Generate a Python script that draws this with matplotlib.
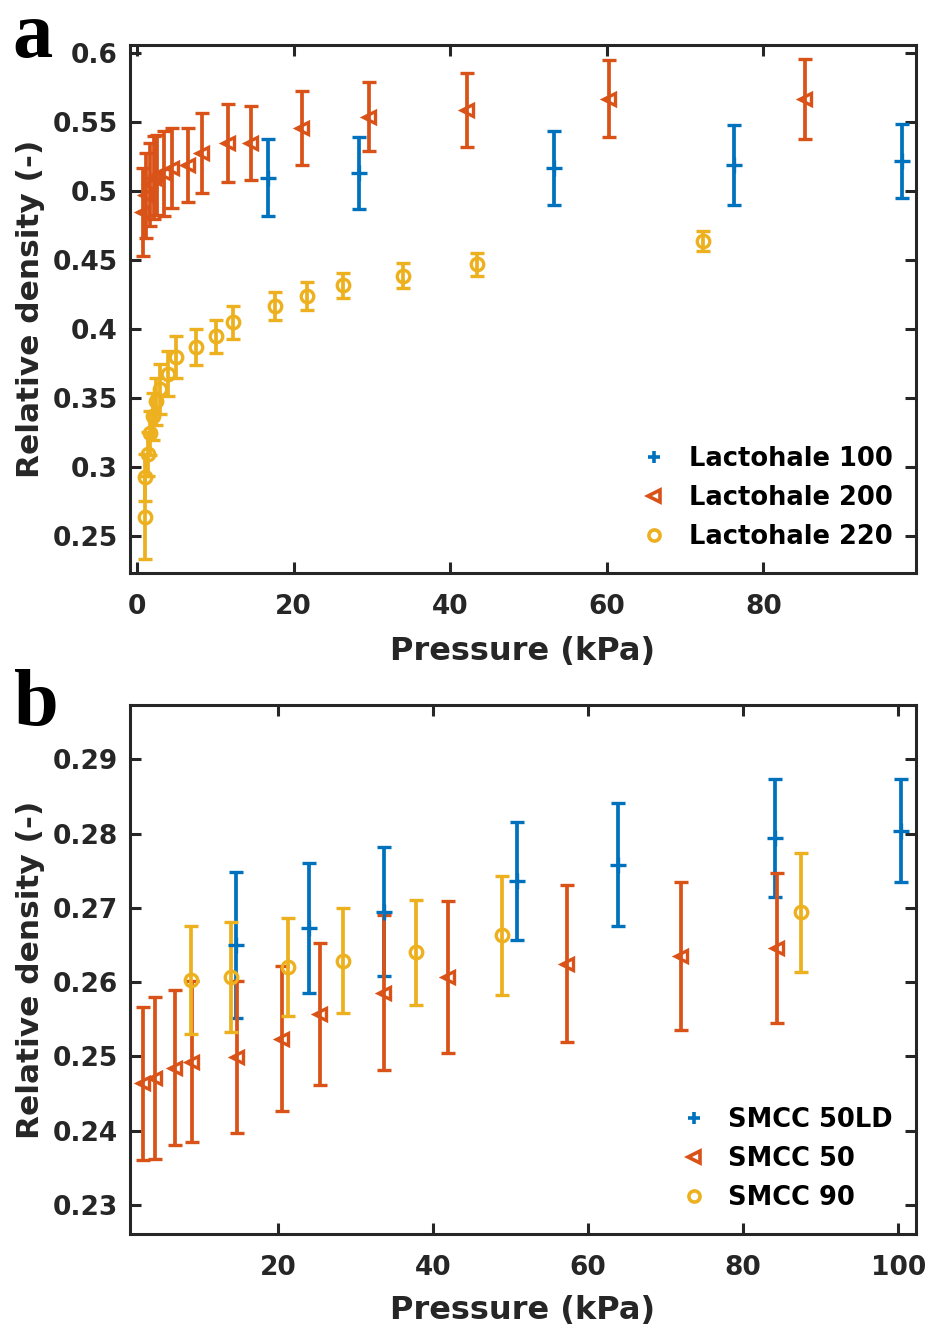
import matplotlib
matplotlib.use("Agg")
import matplotlib.pyplot as plt
from matplotlib.ticker import FuncFormatter, FixedLocator
from matplotlib.lines import Line2D

plt.rcParams['font.family'] = ['DejaVu Sans']
plt.rcParams['font.weight'] = 'bold'

# ---------------- Panel a data ----------------
l100_x = [16.7, 28.4, 53.3, 76.2, 97.7]
l100_y = [0.510, 0.513, 0.517, 0.519, 0.522]
l100_e = [0.028, 0.026, 0.027, 0.029, 0.027]

l200_x = [0.7, 1.2, 1.6, 2.1, 2.6, 3.4, 4.5, 6.5, 8.3, 11.6, 14.6, 21.1, 29.6, 42.1, 60.3, 85.3]
l200_y = [0.485, 0.497, 0.505, 0.510, 0.512, 0.513, 0.517, 0.519, 0.528, 0.535, 0.535, 0.546, 0.554, 0.559, 0.567, 0.567]
l200_e = [0.032, 0.031, 0.030, 0.030, 0.029, 0.031, 0.029, 0.027, 0.029, 0.028, 0.027, 0.027, 0.025, 0.027, 0.028, 0.029]

l220_x = [1.0, 1.0, 1.4, 1.7, 2.0, 2.4, 2.9, 4.0, 5.0, 7.5, 10.1, 12.3, 17.6, 21.7, 26.3, 34.0, 43.4, 72.3]
l220_y = [0.264, 0.293, 0.310, 0.325, 0.337, 0.348, 0.357, 0.368, 0.380, 0.387, 0.395, 0.405, 0.417, 0.424, 0.432, 0.439, 0.447, 0.464]
l220_e = [0.030, 0.017, 0.016, 0.016, 0.017, 0.017, 0.018, 0.016, 0.015, 0.013, 0.012, 0.012, 0.010, 0.010, 0.009, 0.009, 0.008, 0.007]

# ---------------- Panel b data ----------------
s50ld_x = [14.6, 24.0, 33.7, 50.8, 63.9, 84.1, 100.4]
s50ld_y = [0.2650, 0.2673, 0.2695, 0.2736, 0.2758, 0.2794, 0.2804]
s50ld_e = [0.0098, 0.0087, 0.0087, 0.0079, 0.0083, 0.0080, 0.0069]

s50_x = [2.6, 4.1, 6.7, 8.9, 14.7, 20.5, 25.4, 33.7, 41.9, 57.3, 72.0, 84.4]
s50_y = [0.2464, 0.2471, 0.2485, 0.2493, 0.2499, 0.2524, 0.2557, 0.2586, 0.2607, 0.2625, 0.2635, 0.2646]
s50_e = [0.0103, 0.0109, 0.0104, 0.0108, 0.0102, 0.0098, 0.0096, 0.0104, 0.0102, 0.0106, 0.0100, 0.0101]

s90_x = [8.8, 13.9, 21.3, 28.4, 37.8, 48.9, 87.5]
s90_y = [0.2603, 0.2607, 0.2620, 0.2629, 0.2640, 0.2663, 0.2694]
s90_e = [0.0073, 0.0074, 0.0066, 0.0071, 0.0071, 0.0080, 0.0080]

labels_a = ['Lactohale 100', 'Lactohale 200', 'Lactohale 220']
labels_b = ['SMCC 50LD', 'SMCC 50', 'SMCC 90']

C_BLUE = '#0072BD'
C_RED = '#D95319'
C_YEL = '#EDB120'
C_AX = '#262626'

fig = plt.figure(figsize=(9.3, 13.31), dpi=100)
ax_a = fig.add_axes([0.1398, 0.5695, 0.8452, 0.3967])
ax_b = fig.add_axes([0.1398, 0.0729, 0.8452, 0.3974])

ekw = dict(linestyle='none', elinewidth=2.7, capsize=4.8, capthick=2.7)


def draw(ax, series):
    handles = []
    for (x, y, e, color, marker, ms, lab) in series:
        ax.errorbar(x, y, yerr=e, color=color, marker=marker, markersize=ms,
                    markerfacecolor='none', markeredgewidth=2.4, **ekw)
        handles.append(Line2D([], [], color=color, marker=marker, linestyle='none',
                              markersize=8 if marker != '+' else 9,
                              markerfacecolor='none', markeredgewidth=2.6, label=lab))
    for sp in ax.spines.values():
        sp.set_linewidth(2.2)
        sp.set_color(C_AX)
    ax.tick_params(direction='in', length=8, width=2.2, top=True, right=True,
                   labelsize=19, colors=C_AX)
    ax.tick_params(axis='x', pad=15)
    ax.tick_params(axis='y', pad=9)
    leg = ax.legend(handles=handles, loc='lower right', frameon=False, fontsize=18.5,
                    handletextpad=0.75, labelspacing=0.5, borderaxespad=0.5,
                    handlelength=1.2)
    for t in leg.get_texts():
        t.set_fontweight('bold')
    return leg


draw(ax_a, [
    (l100_x, l100_y, l100_e, C_BLUE, '+', 12, labels_a[0]),
    (l200_x, l200_y, l200_e, C_RED, '<', 8, labels_a[1]),
    (l220_x, l220_y, l220_e, C_YEL, 'o', 9, labels_a[2]),
])
ax_a.set_xlim(-0.9, 99.5)
ax_a.set_ylim(0.2235, 0.606)
ax_a.xaxis.set_major_locator(FixedLocator([0, 20, 40, 60, 80]))
ax_a.yaxis.set_major_locator(FixedLocator([0.25, 0.3, 0.35, 0.4, 0.45, 0.5, 0.55, 0.6]))
ax_a.yaxis.set_major_formatter(FuncFormatter(lambda v, p: f'{v:g}'))

draw(ax_b, [
    (s50ld_x, s50ld_y, s50ld_e, C_BLUE, '+', 12, labels_b[0]),
    (s50_x, s50_y, s50_e, C_RED, '<', 8, labels_b[1]),
    (s90_x, s90_y, s90_e, C_YEL, 'o', 9, labels_b[2]),
])
ax_b.set_xlim(0.9, 102.3)
ax_b.set_ylim(0.2261, 0.2973)
ax_b.xaxis.set_major_locator(FixedLocator([20, 40, 60, 80, 100]))
ax_b.yaxis.set_major_locator(FixedLocator([0.23, 0.24, 0.25, 0.26, 0.27, 0.28, 0.29]))
ax_b.yaxis.set_major_formatter(FuncFormatter(lambda v, p: f'{v:g}'))

ax_a.set_xlabel('Pressure (kPa)', fontsize=23, fontweight='bold', color=C_AX, labelpad=12)
ax_b.set_xlabel('Pressure (kPa)', fontsize=23, fontweight='bold', color=C_AX, labelpad=10)
for ax in (ax_a, ax_b):
    ax.set_ylabel('Relative density (-)', fontsize=22.5, fontweight='bold', color=C_AX, labelpad=5)
    for t in ax.get_xticklabels() + ax.get_yticklabels():
        t.set_fontweight('bold')

fig.text(12 / 930, 1 - 57 / 1331, 'a', fontsize=58, fontweight='bold',
         family=['Liberation Serif', 'DejaVu Serif'], ha='left', va='baseline')
fig.text(14 / 930, 1 - 725 / 1331, 'b', fontsize=58, fontweight='bold',
         family=['Liberation Serif', 'DejaVu Serif'], ha='left', va='baseline')

fig.savefig('out.png', dpi=100, facecolor='white')
